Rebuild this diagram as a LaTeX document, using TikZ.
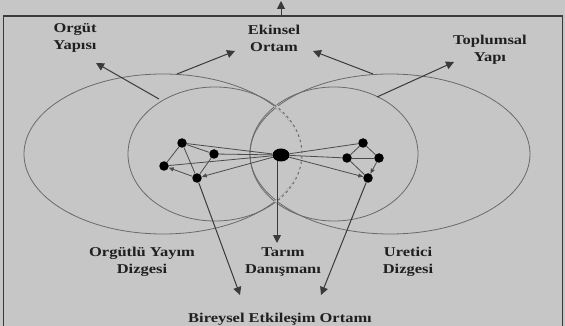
\documentclass[tikz,border=0pt]{standalone}
\usepackage{fontspec}
\setmainfont{Liberation Serif}[FakeStretch=1.22]
\usetikzlibrary{arrows.meta,shapes.geometric}
\definecolor{bgc}{HTML}{C6C6C6}
\definecolor{elc}{HTML}{6A6A6A}
\definecolor{arc}{HTML}{3A3A3A}
\begin{document}
\begin{tikzpicture}[x=1pt,y=-1pt,
  lbl/.style={font=\bfseries\fontsize{13.5}{17}\selectfont, align=center, inner sep=0pt, text=black!88},
  elli/.style={draw=elc, line width=0.8pt},
  arr/.style={draw=arc, line width=1pt, -{Triangle[length=8pt,width=8pt]}},
  dot/.style={circle, fill=black, inner sep=0pt, minimum size=9.5pt},
  bigdot/.style={ellipse, fill=black, inner sep=0pt, minimum width=17pt, minimum height=13pt},
  edge/.style={draw=black!70, line width=0.8pt},
  earr/.style={draw=black!70, line width=0.8pt, -{Triangle[length=5pt,width=4pt]}}]
\useasboundingbox (0,0) rectangle (565,326);
\fill[bgc] (0,0) rectangle (565,326);
% frame
\draw[arc, line width=1.5pt] (3.5,330) -- (3.5,16) -- (562.5,16) -- (562.5,330);
\coordinate (topS) at (281,16);
\coordinate (topE) at (281,1);
\draw[arr] (topS) -- (topE);
% ellipses
\draw[elli] (163,154) ellipse [x radius=139, y radius=80];
\draw[elli] (215,154) ellipse [x radius=87, y radius=67];
\draw[elli] (390,154) ellipse [x radius=140, y radius=80];
\draw[elli] (334,154) ellipse [x radius=84, y radius=67];
% dashed right side of left pair
\draw[bgc, line width=2.5pt] (215,154) ++(-47:87 and 67) arc[start angle=-47, end angle=47, x radius=87, y radius=67];
\draw[elc, line width=1pt, dash pattern=on 2.5pt off 3pt] (215,154) ++(-47:87 and 67) arc[start angle=-47, end angle=47, x radius=87, y radius=67];
% labels
\node[lbl] (orgut) at (75,38) {Orgüt\\Yapısı};
\node[lbl] (ekin) at (274,38) {Ekinsel\\Ortam};
\node[lbl] (topl) at (490,50) {Toplumsal\\Yapı};
\node[lbl] (oyd) at (142,262) {Orgütlü Yayım\\Dizgesi};
\node[lbl] (tarim) at (283,262) {Tarım\\Danışmanı};
\node[lbl] (ured) at (408,262) {Uretici\\Dizgesi};
\node[lbl] (beo) at (280,319) {Bireysel Etkileşim Ortamı};
% arrows from ellipses to labels
\coordinate (a1s) at (159,99);  \coordinate (a1e) at (96,63);
\coordinate (a2s) at (177,74);  \coordinate (a2e) at (235,51);
\coordinate (a3s) at (373,74);  \coordinate (a3e) at (313,51);
\coordinate (a4s) at (377,97);  \coordinate (a4e) at (454,62);
\draw[arr] (a1s) -- (a1e);
\draw[arr] (a2s) -- (a2e);
\draw[arr] (a3s) -- (a3e);
\draw[arr] (a4s) -- (a4e);
% network
\node[bigdot] (C) at (281,155) {};
\node[dot] (n1) at (182,143) {};
\node[dot] (n2) at (214,154) {};
\node[dot] (n3) at (164,166) {};
\node[dot] (n4) at (197,178) {};
\node[dot] (m1) at (363,143) {};
\node[dot] (m2) at (347,158) {};
\node[dot] (m3) at (379,158) {};
\node[dot] (m4) at (368,178) {};
\draw[edge] (n1) -- (n2);
\draw[edge] (n1) -- (n3);
\draw[edge] (n1) -- (n4);
\draw[edge] (n2) -- (n4);
\draw[earr] (n4) -- (n3);
\draw[edge] (C) -- (n1);
\draw[edge] (C) -- (n2);
\draw[edge] (C) -- (n3);
\draw[earr] (C) -- (n4);
\draw[edge] (m1) -- (m2);
\draw[edge] (m1) -- (m3);
\draw[edge] (m2) -- (m3);
\draw[edge] (m2) -- (m4);
\draw[earr] (m3) -- (m4);
\draw[edge] (C) -- (m1);
\draw[edge] (C) -- (m2);
\draw[earr] (C) -- (m4);
% long arrows
\coordinate (b1e) at (240,295);
\coordinate (b2e) at (321,295);
\coordinate (cS) at (277,161);
\coordinate (b3e) at (277,243);
\draw[arr] (n4) -- (b1e);
\draw[arr] (m4) -- (b2e);
\draw[arr] (cS) -- (b3e);
\end{tikzpicture}
\end{document}
